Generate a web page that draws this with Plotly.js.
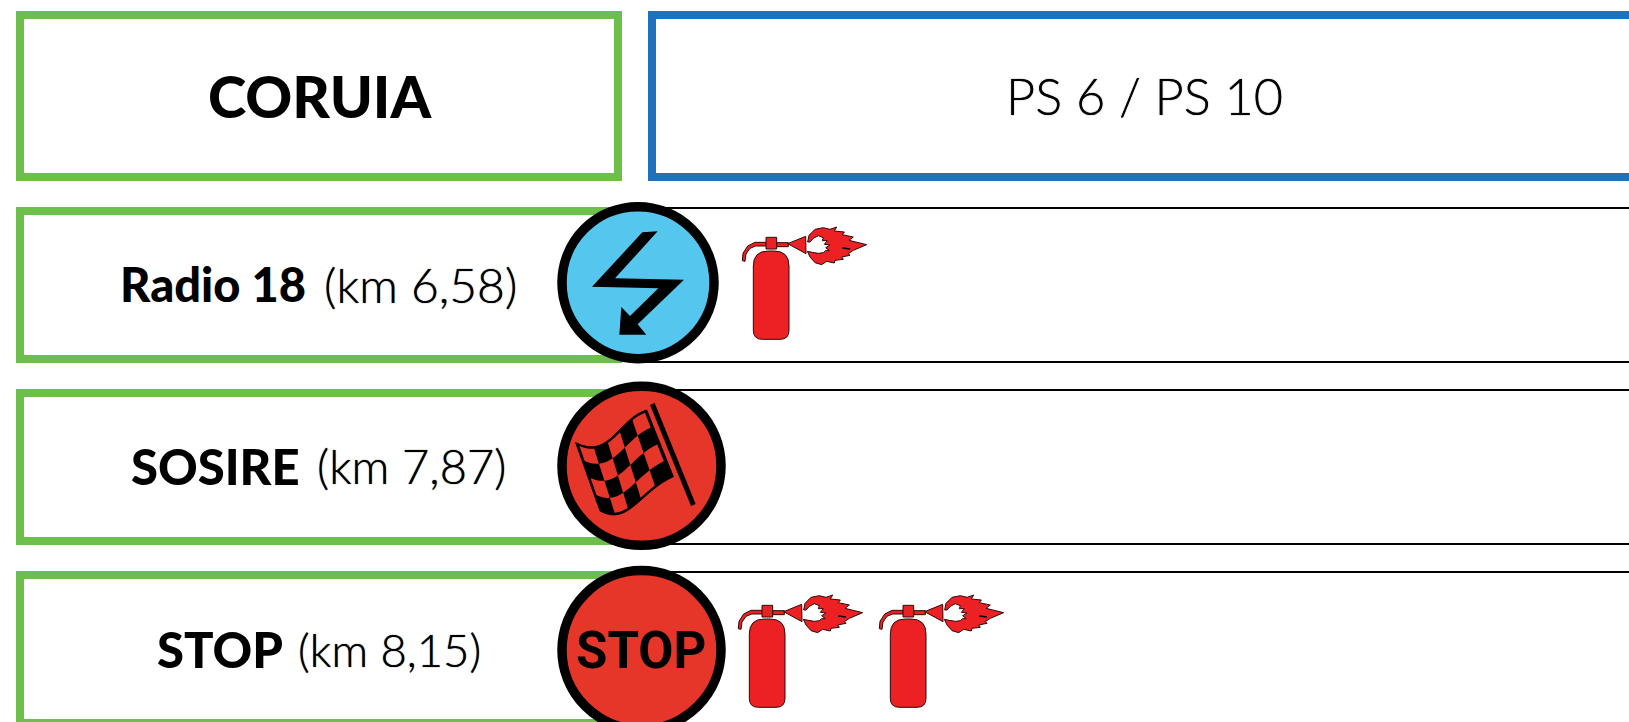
<!DOCTYPE html>
<html>
<head>
<meta charset="utf-8">
<script src="https://cdn.plot.ly/plotly-3.0.1.min.js"></script>
<style>html,body{margin:0;padding:0;background:#fff;overflow:hidden}#chart{width:1629px;height:722px}</style>
</head>
<body>
<div id="chart"></div>
<script>
// ---- content ----
const segmentName = "CORUIA";
const stageName = "PS 6 / PS 10";
const pointNames = ["Radio 18", "SOSIRE", "STOP"];
const pointKm = ["(km 6,58)", "(km 7,87)", "(km 8,15)"];
const pointIcons = ["radio", "flag", "stop"];
const extinguisherCounts = [1, 0, 2];

// ---- page geometry (pixels) ----
const W = 1629, H = 722;
const rowTop = [207, 389, 571];
const rowBottom = [363, 545, 727];
const iconCx = [638, 641.5, 641.5];
const iconCy = [282.7, 465.8, 650];
const iconR = [76, 79.5, 79.5];
const extOriginX = [735, 0, 731];
const extOriginY = [220, 0, 588];
const extStep = 141;
const nameLeft = [117.5, 129, 155];
const kmLeft = [322, 315, 295.5];
const nameSize = [47, 49, 49];
const kmSize = [48, 47, 45.5];
const textY = [284, 466, 649];

const GREEN = "#6cbf4a", BLUE = "#1e71bb", RED = "#e53629", SKY = "#55c7ef", FIRE = "#ed2024", INK = "#000000";
const LIGHT_SHADOW = "0 0 1px #000";
const shapes = [];
const ann = [];

function poly(pts, ox, oy, k) {
  return "M" + pts.map(p => (ox + p[0] * k).toFixed(2) + "," + (oy + p[1] * k).toFixed(2)).join("L") + "Z";
}
function addPath(path, fill, lineColor, lineWidth) {
  shapes.push({type: "path", xref: "x", yref: "y", path: path, fillcolor: fill,
    line: {color: lineColor || fill, width: lineWidth === undefined ? 0 : lineWidth}});
}
function addRect(x0, y0, x1, y1, color, width) {
  shapes.push({type: "rect", xref: "x", yref: "y", x0, y0, x1, y1, fillcolor: "#ffffff", line: {color, width}});
}
function addLine(x0, y0, x1, y1, color, width) {
  shapes.push({type: "line", xref: "x", yref: "y", x0, y0, x1, y1, line: {color, width}});
}
function addText(x, y, text, size, family, weight, anchor, shadow) {
  ann.push({xref: "x", yref: "y", x, y, text, showarrow: false, xanchor: anchor || "left", yanchor: "middle",
    font: {size, family, weight, color: "#000", shadow: shadow || "none"}});
}

// header boxes
addRect(20, 15, 618, 177, GREEN, 8);
addRect(652, 15, 1700, 177, BLUE, 8);
addText(319.5, 95, segmentName, 58, "Lato", 900, "center");
addText(1144.5, 95, stageName, 50.5, "Lato", 300, "center", LIGHT_SHADOW);

// rows
rowTop.forEach((t, i) => {
  const b = rowBottom[i];
  addRect(20, t + 4, 618, b - 4, GREEN, 8);
  addLine(640, t + 1, W + 10, t + 1, INK, 2);
  addLine(640, b - 1, W + 10, b - 1, INK, 2);
  addText(nameLeft[i], textY[i], pointNames[i], nameSize[i], "Lato", 900);
  addText(kmLeft[i], textY[i], pointKm[i], kmSize[i], "Lato", 300, "left", LIGHT_SHADOW);
});

// icons: circles
pointIcons.forEach((kind, i) => {
  shapes.push({type: "circle", xref: "x", yref: "y",
    x0: iconCx[i] - iconR[i], x1: iconCx[i] + iconR[i], y0: iconCy[i] - iconR[i], y1: iconCy[i] + iconR[i],
    fillcolor: kind === "radio" ? SKY : RED, line: {color: INK, width: 9.5}});
});

// lightning bolt (template in zoom units, 3 = 1px)
const boltPts = [[337,127],[383,124],[255,265],[462,269],[323,403],[349,434],[268,434],[274,351],[300,378],[385,295],[186,290]];
addPath(poly(boltPts, 530, 190, 1/3), INK);

// chequered flag
(function () {
  const ox = 565, oy = 395, k = 1/3;
  const bez = (p, t) => {
    const u = 1 - t;
    return [0, 1].map(a => u*u*u*p[0][a] + 3*u*u*t*p[1][a] + 3*u*t*t*p[2][a] + t*t*t*p[3][a]);
  };
  const topEdge = [[32,143],[135,195],[160,70],[245,45]];
  const botEdge = [[105,348],[190,395],[225,290],[325,245]];
  const warp = (u, v) => {
    const a = bez(topEdge, u), b = bez(botEdge, u);
    return [a[0] + (b[0]-a[0])*v, a[1] + (b[1]-a[1])*v];
  };
  const outline = [];
  for (let s = 0; s <= 16; s++) outline.push(warp(s/16, 0));
  for (let s = 16; s >= 0; s--) outline.push(warp(s/16, 1));
  addPath(poly(outline, ox, oy, k), INK, INK, 1);
  const cols = 5, rows = 4, m = 0.03;
  for (let c = 0; c < cols; c++) for (let r = 0; r < rows; r++) {
    if ((c + r) % 2) continue;
    const u0 = Math.max(c/cols, m), u1 = Math.min((c+1)/cols, 1-m), v0 = Math.max(r/rows, m), v1 = Math.min((r+1)/rows, 1-m);
    const cell = [];
    for (let s = 0; s <= 4; s++) cell.push(warp(u0 + (u1-u0)*s/4, v0));
    for (let s = 0; s <= 4; s++) cell.push(warp(u1 + (u0-u1)*s/4, v1));
    addPath(poly(cell, ox, oy, k), RED);
  }
  addLine(ox + 262*k, oy + 27*k, ox + 385*k, oy + 330*k, INK, 5);
})();

// STOP sign text
addText(641, 650, "STOP", 51, "Roboto", 700, "center");

// fire extinguisher template (zoom units, 3 = 1px)
const handlePts = [[93,67],[60,67],[38,78],[24,100],[22,122],[30,124],[33,102],[45,85],[62,78],[93,78]];
const pipePts = [[125,68],[160,68],[160,80],[125,80]];
const neckPts = [[93,52],[125,52],[125,87],[93,87]];
const conePts = [[158,71],[212,49],[213,101]];
const flamePts = [[218,66],[222,46],[240,28],[265,23],[285,28],[305,21],[298,33],[328,36],[322,44],[355,51],[342,61],[395,74],[355,91],[340,101],[345,106],[320,111],[325,118],[300,121],[298,129],[275,124],[260,134],[240,128],[225,111],[217,94],[232,97],[250,100],[265,98],[272,92],[283,92],[272,83],[285,75],[268,73],[277,62],[262,62],[265,53],[250,47],[235,55],[225,66]];
function bodyPath(ox, oy) {
  const k = 1/3, x0 = ox+55*k, x1 = ox+162*k, y0 = oy+93*k, y1 = oy+358*k, rt = 15, rb = 9;
  return `M${x0},${y0+rt} Q${x0},${y0} ${x0+rt},${y0} L${x1-rt},${y0} Q${x1},${y0} ${x1},${y0+rt} L${x1},${y1-rb} Q${x1},${y1} ${x1-rb},${y1} L${x0+rb},${y1} Q${x0},${y1} ${x0},${y1-rb} Z`;
}
function addExtinguisher(ox, oy) {
  const k = 1/3, edge = "#2b0a0a";
  addPath(bodyPath(ox, oy), FIRE, edge, 1);
  [handlePts, pipePts, neckPts, conePts, flamePts].forEach(p => addPath(poly(p, ox, oy, k), FIRE, edge, 1));
  addLine(ox + 322*k, oy + 84*k, ox + 345*k, oy + 87*k, INK, 1.5);
}
extinguisherCounts.forEach((n, i) => {
  for (let j = 0; j < n; j++) addExtinguisher(extOriginX[i] + j * extStep, extOriginY[i]);
});

Plotly.newPlot("chart", [], {
  width: W, height: H, margin: {l: 0, r: 0, t: 0, b: 0},
  paper_bgcolor: "#ffffff", plot_bgcolor: "#ffffff", showlegend: false,
  xaxis: {range: [0, W], visible: false, fixedrange: true},
  yaxis: {range: [H, 0], visible: false, fixedrange: true},
  shapes: shapes, annotations: ann
}, {displayModeBar: false, staticPlot: true});
</script>
</body>
</html>
